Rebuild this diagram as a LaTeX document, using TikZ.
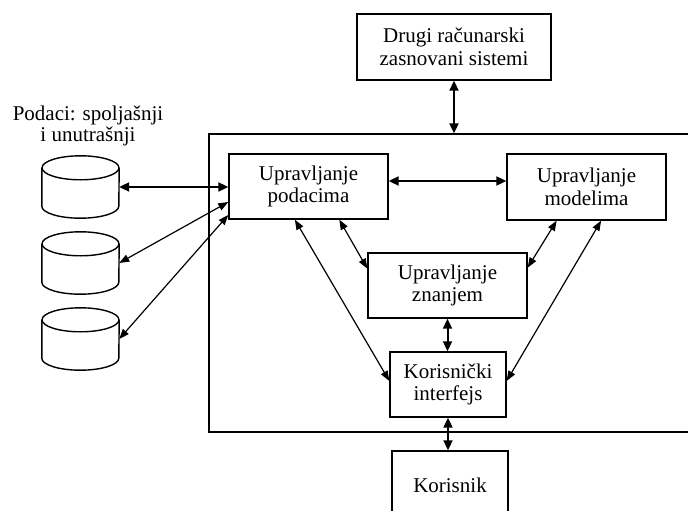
\documentclass[tikz,border=0pt]{standalone}
\usepackage{fontspec}
\setmainfont{Liberation Serif}
\usetikzlibrary{arrows.meta,calc}
\begin{document}
\begin{tikzpicture}[x=1pt,y=-1pt,
  lbl/.style={font=\fontsize{21}{22.5}\selectfont, align=center, inner sep=0pt},
  box/.style={lbl, draw, line width=1.4pt},
  frame/.style={draw, line width=1.3pt, inner sep=0pt},
  cylpart/.style={line width=1.4pt},
  slim/.style={line width=1.2pt, {Triangle[length=10pt,width=7.5pt]}-{Triangle[length=10pt,width=7.5pt]}},
  bold/.style={line width=2pt, {Triangle[length=10pt,width=9pt]}-{Triangle[length=10pt,width=9pt]}},
  ghost/.style={inner sep=0pt, minimum width=77pt, minimum height=62pt}
]
\useasboundingbox (0,0) rectangle (688,511);
\clip (0,0) rectangle (688,511);

% container
\node[frame, minimum width=511pt, minimum height=298pt] (cont) at (464.5,283) {};

% boxes
\node[box, minimum width=194pt, minimum height=66pt] (drugi) at (454,47) {Drugi računarski\\zasnovani sistemi};
\node[box, minimum width=159pt, minimum height=65pt] (pod) at (308.5,186.5) {Upravljanje\\podacima};
\node[box, minimum width=159pt, minimum height=66pt] (mod) at (586.5,187) {Upravljanje\\modelima};
\node[box, minimum width=159pt, minimum height=65pt] (zna) at (447.5,285.5) {Upravljanje\\znanjem};
\node[box, minimum width=116pt, minimum height=65pt] (ki) at (448,384.5) {Korisnički\\interfejs};
\node[box, minimum width=116pt, minimum height=68pt] (kor) at (450,485) {Korisnik};

% data label (base = baseline of last line)
\node[lbl, font=\fontsize{21}{21}\selectfont, anchor=base] (data) at (88,141) {Podaci: spoljašnji\\i unutrašnji};

% cylinders
\node[ghost] (c1) at (80.5,187) {};
\node[ghost] (c2) at (80.5,263) {};
\node[ghost] (c3) at (80.5,339) {};
\foreach \c in {c1,c2,c3}{
  \draw[cylpart] ($(\c.north west)+(0,12)$) -- ($(\c.south west)+(0,-12)$)
    arc[start angle=180,end angle=360,x radius=38.5pt,y radius=12pt]
    -- ($(\c.north east)+(0,12)$);
  \draw[cylpart] ($(\c.north)+(0,12)$) ellipse[x radius=38.5pt, y radius=12pt];
}

% connectors
\draw[bold] (drugi.south) -- (drugi.south |- cont.north);
\draw[bold] ([yshift=5.5pt]pod.east) -- ([yshift=5.5pt]pod.east -| mod.west);
\draw[bold] (zna.south) -- (zna.south |- ki.north);
\draw[bold] (ki.south) -- (ki.south |- kor.north);
\draw[bold] (c1.east) -- (c1.east -| pod.west);
\draw[slim] (c2.east) -- ([yshift=-15.5pt]pod.west);
\draw[slim] (c3.east) -- ([yshift=-28.5pt]pod.west);
\draw[slim] ($(pod.south west)!0.692!(pod.south east)$) -- ($(zna.north west)!0.246!(zna.south west)$);
\draw[slim] ($(mod.south west)!0.314!(mod.south east)$) -- ($(zna.north east)!0.23!(zna.south east)$);
\draw[slim] ($(pod.south west)!0.415!(pod.south east)$) -- ($(ki.north west)!0.446!(ki.south west)$);
\draw[slim] ($(mod.south west)!0.591!(mod.south east)$) -- ($(ki.north east)!0.446!(ki.south east)$);
\end{tikzpicture}
\end{document}
